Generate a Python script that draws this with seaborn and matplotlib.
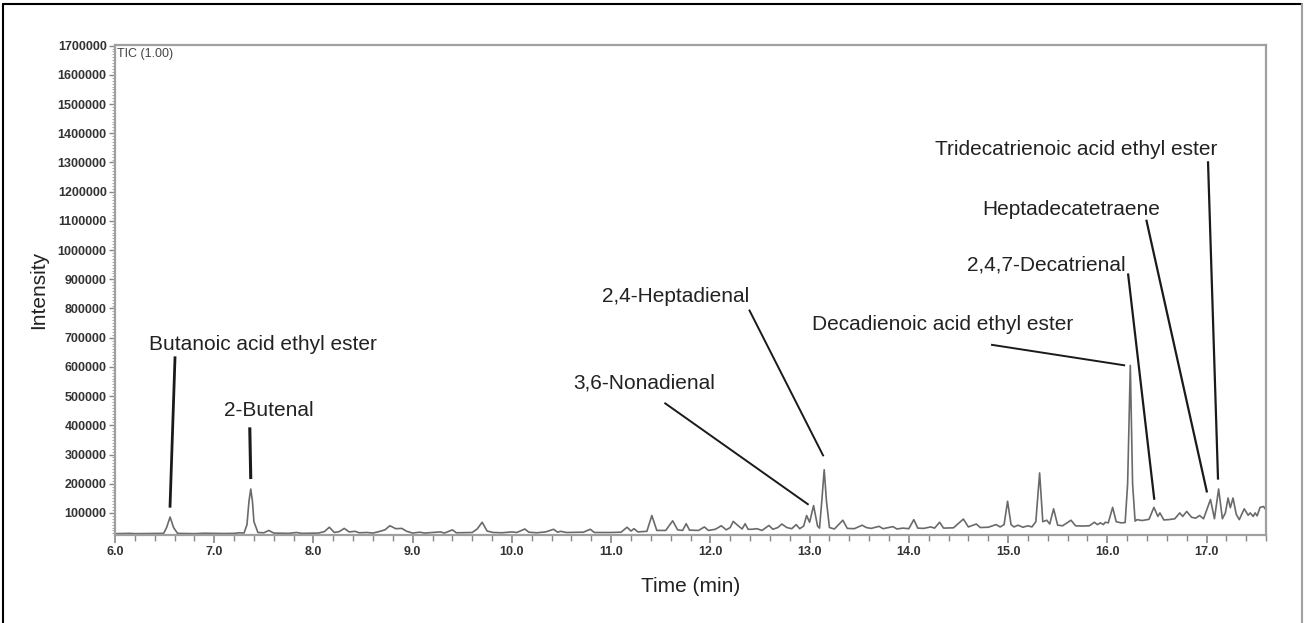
import numpy as np
import pandas as pd
import matplotlib
matplotlib.use("Agg")
import matplotlib.pyplot as plt
from matplotlib.lines import Line2D
from matplotlib.ticker import MultipleLocator, FuncFormatter
import seaborn as sns

# chromatogram trace (time in min, intensity in thousands)
rt_a = [6.00, 6.10, 6.15, 6.20, 6.40, 6.49, 6.52, 6.555, 6.59, 6.63, 6.80, 6.90, 7.00, 7.10,
        7.20, 7.25, 7.30, 7.33, 7.35, 7.368, 7.385, 7.40, 7.44, 7.50, 7.55, 7.60, 7.75, 7.83,
        7.88, 8.05]
sig_a = [29, 29.5, 30, 29, 29.5, 30, 50, 86, 50, 30, 29, 30.5, 30, 29.5,
         30, 32, 31, 60, 140, 182, 140, 70, 33, 32, 40, 31, 30, 33,
         30, 31]

rt_b = [8.11, 8.16, 8.21, 8.26, 8.31, 8.36, 8.42, 8.46, 8.54, 8.60, 8.66, 8.72, 8.77, 8.83,
        8.89, 8.94, 9.00, 9.07, 9.12, 9.28, 9.32, 9.40, 9.44, 9.60, 9.65, 9.70, 9.75, 9.81,
        9.90, 10.00, 10.05, 10.13, 10.17, 10.25, 10.34, 10.42, 10.46, 10.49, 10.55, 10.72,
        10.79, 10.83, 11.00]
sig_b = [36, 51, 33, 36, 47, 35, 37, 32, 33, 31, 36, 42, 56, 46,
         47, 37, 31, 34, 31, 35, 31, 42, 32, 33, 45, 68, 38, 33,
         32, 35, 33, 45, 34, 32, 35, 44, 34, 37, 33, 34,
         44, 33, 33]

rt_c = [11.10, 11.16, 11.20, 11.23, 11.27, 11.36, 11.41, 11.46, 11.55, 11.62, 11.67, 11.72,
        11.756, 11.79, 11.88, 11.94, 11.98, 12.05, 12.11, 12.16, 12.20, 12.23, 12.28, 12.32,
        12.35, 12.38, 12.42, 12.47, 12.52, 12.59, 12.63, 12.68, 12.72, 12.77, 12.82, 12.865,
        12.90, 12.94, 12.97, 13.00, 13.04, 13.08, 13.10, 13.125, 13.147, 13.17, 13.20]
sig_c = [34, 51, 38, 46, 35, 37, 91, 40, 40, 73, 42, 40,
         63, 41, 40, 52, 40, 44, 56, 42, 50, 71, 56, 45,
         63, 44, 44, 46, 40, 57, 44, 50, 62, 50, 46, 60,
         46, 55, 91, 68, 125, 55, 48, 150, 248, 140, 50]

rt_d = [13.25, 13.335, 13.38, 13.45, 13.53, 13.57, 13.62, 13.70, 13.74, 13.84, 13.88, 13.94,
        14.00, 14.05, 14.09, 14.15, 14.22, 14.26, 14.31, 14.35, 14.45, 14.55, 14.60, 14.68,
        14.72, 14.80, 14.88, 14.92, 14.96, 14.995, 15.03, 15.06, 15.10, 15.15, 15.20, 15.24,
        15.28, 15.318, 15.35, 15.39, 15.42, 15.459, 15.50, 15.55, 15.634, 15.68, 15.75, 15.82]
sig_d = [45, 75, 47, 46, 58, 50, 47, 54, 46, 53, 45, 48,
         46, 77, 48, 47, 52, 48, 68, 48, 49, 79, 52, 62,
         50, 51, 60, 52, 60, 140, 60, 52, 58, 51, 56, 52,
         70, 237, 70, 75, 62, 114, 58, 56, 75, 56, 55, 56]

rt_e = [15.87, 15.90, 15.93, 15.96, 15.98, 16.01, 16.054, 16.09, 16.14, 16.18, 16.205, 16.232,
        16.255, 16.28, 16.30, 16.35, 16.42, 16.47, 16.51, 16.53, 16.57, 16.62, 16.68, 16.73,
        16.76, 16.80, 16.85, 16.89, 16.93, 16.97, 17.04, 17.08, 17.122, 17.16, 17.19, 17.217,
        17.24, 17.267, 17.30, 17.33, 17.38, 17.42, 17.44, 17.47, 17.49, 17.51, 17.54, 17.575,
        17.61]
sig_e = [68, 60, 66, 60, 68, 66, 119, 70, 66, 67, 200, 605,
         200, 72, 77, 74, 78, 119, 88, 100, 76, 77, 80, 100,
         88, 105, 85, 82, 91, 80, 146, 80, 182, 80, 100, 151,
         118, 151, 95, 77, 114, 92, 100, 88, 100, 90, 119, 122,
         105]

compounds = ["Butanoic acid ethyl ester", "2-Butenal", "3,6-Nonadienal", "2,4-Heptadienal",
             "Decadienoic acid ethyl ester", "2,4,7-Decatrienal", "Heptadecatetraene",
             "Tridecatrienoic acid ethyl ester"]
# peak each label points at (time, intensity)
peak_rt = [6.554, 7.368, 12.99, 13.14, 16.18, 16.474, 17.005, 17.116]
peak_int = [118000, 216000, 128000, 294000, 605000, 145000, 170000, 214000]

# label layout: text anchor (time, intensity), alignment, leader line start
label_xy = [(6.346, 676000), (7.099, 450000), (10.614, 545000), (10.906, 841000),
            (13.02, 745000), (16.18, 950000), (16.529, 1139000), (17.112, 1344000)]
label_ha = ["left", "left", "left", "left", "left", "right", "right", "right"]
line_start = [(6.605, 636000), (7.358, 393000), (11.537, 477000), (12.39, 796000),
              (14.828, 676000), (16.209, 920000), (16.393, 1104000), (17.015, 1304000)]
line_w = [2.0, 2.2, 1.4, 1.4, 1.4, 1.6, 1.6, 1.6]

df = pd.DataFrame({
    "time": rt_a + rt_b + rt_c + rt_d + rt_e,
    "intensity": [v * 1000 for v in sig_a + sig_b + sig_c + sig_d + sig_e],
})

sns.set_style("ticks")
plt.rcParams["font.family"] = ["Liberation Sans", "DejaVu Sans"]

fig = plt.figure(figsize=(13.04, 6.23), dpi=100)
ax = fig.add_axes([0.0882, 0.142, 0.8827, 0.7857])

sns.lineplot(data=df, x="time", y="intensity", estimator=None, sort=False,
             color="#6a6a6a", linewidth=1.2, ax=ax)

for name, (tx, ty), ha, (sx, sy), px, py, lw in zip(compounds, label_xy, label_ha,
                                                    line_start, peak_rt, peak_int, line_w):
    ax.text(tx, ty, name, ha=ha, va="center", fontsize=15, color="#222222")
    ax.plot([sx, px], [sy, py], color="#1a1a1a", linewidth=lw, solid_capstyle="butt")

ax.set_xlim(6.0, 17.6)
ax.set_ylim(26000, 1702000)
ax.set_xticks(np.arange(6, 18, 1))
ax.xaxis.set_major_formatter(FuncFormatter(lambda v, p: f"{v:.1f}"))
ax.xaxis.set_minor_locator(MultipleLocator(0.2))
ax.set_yticks(np.arange(100000, 1700001, 100000))
ax.yaxis.set_major_formatter(FuncFormatter(lambda v, p: f"{int(v)}"))
ax.yaxis.set_minor_locator(MultipleLocator(10000))

ax.tick_params(axis="both", which="both", bottom=True, left=True, top=False, right=False)
ax.tick_params(axis="both", which="major", direction="out", color="#888888",
               labelsize=9, labelcolor="#333333", pad=2)
ax.tick_params(axis="x", which="major", length=6, width=1.2)
ax.tick_params(axis="y", which="major", length=4, width=1.0)
ax.tick_params(axis="x", which="minor", direction="out", length=4, width=1.0, color="#888888")
ax.tick_params(axis="y", which="minor", direction="out", length=2, width=0.6, color="#999999")
for lab in ax.get_xticklabels() + ax.get_yticklabels():
    lab.set_fontweight("bold")

for side in ["left", "right", "top", "bottom"]:
    ax.spines[side].set_visible(True)
    ax.spines[side].set_color("#a0a0a0")
    ax.spines[side].set_linewidth(1.6)

ax.set_xlabel("Time (min)", fontsize=15, color="#222222", labelpad=14)
ax.set_ylabel("Intensity", fontsize=15, color="#222222", labelpad=7)
ax.text(0.002, 0.982, "TIC (1.00)", transform=ax.transAxes, fontsize=9,
        color="#444444", va="center", ha="left")

# outer frame of the figure panel
fig.add_artist(Line2D([0.0025, 0.0025], [0.0, 0.9931], color="black", linewidth=1.5,
                      transform=fig.transFigure))
fig.add_artist(Line2D([0.0025, 0.9982], [0.9931, 0.9931], color="black", linewidth=1.5,
                      transform=fig.transFigure))
fig.add_artist(Line2D([0.9982, 0.9982], [0.0, 0.9931], color="#a0a0a0", linewidth=1.5,
                      transform=fig.transFigure))

fig.savefig("out.png", dpi=100)
